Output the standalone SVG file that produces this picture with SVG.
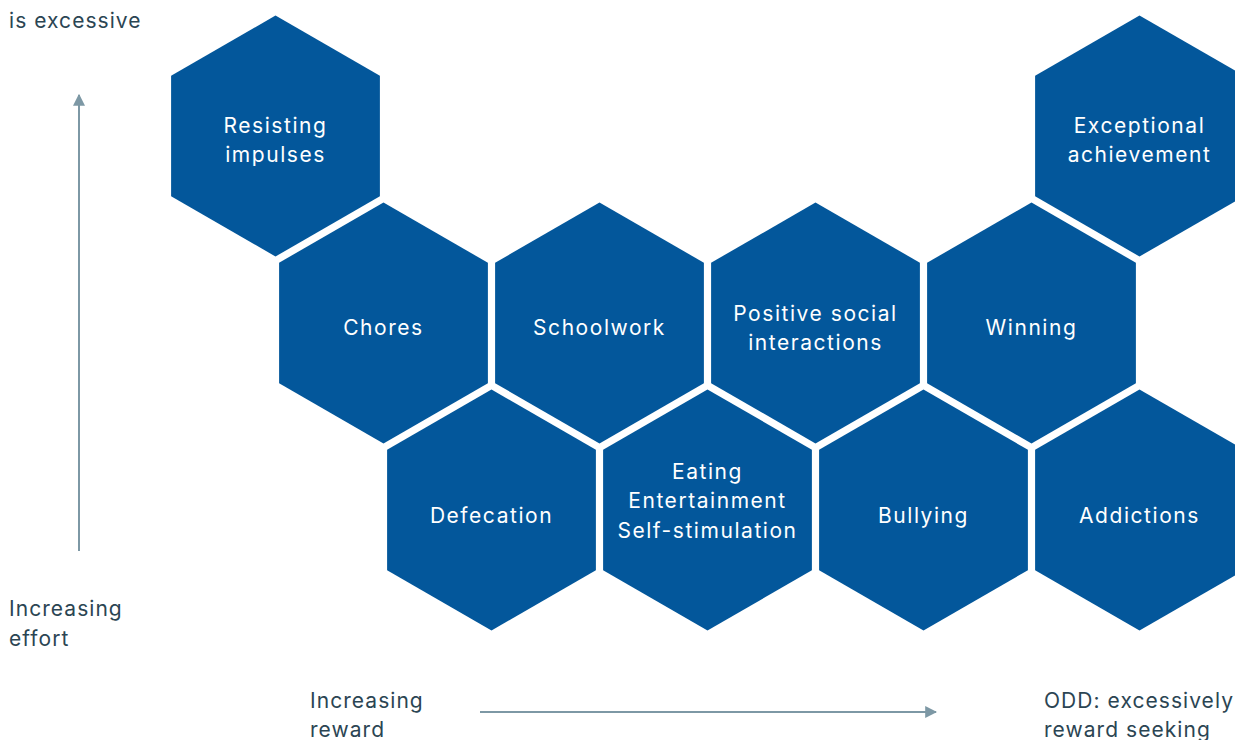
<svg xmlns="http://www.w3.org/2000/svg" width="1235" height="740" viewBox="0 0 1235 740">
<style>
.hex{fill:#03579b}
.ht{font-family:Inter,"Liberation Sans",sans-serif;font-size:21px;fill:#ffffff;text-anchor:middle;letter-spacing:1.55px}
.lab{font-family:Inter,"Liberation Sans",sans-serif;font-size:21px;fill:#2b4553;letter-spacing:1.05px}
.ax{stroke:#7d98a5;stroke-width:2;fill:none}
</style>
<defs>
<polygon id="hx" points="0,-120.5 104.4,-60.25 104.4,60.25 0,120.5 -104.4,60.25 -104.4,-60.25"/>
<marker id="ah" viewBox="0 0 10 10" refX="9" refY="5" markerWidth="6" markerHeight="6" orient="auto" markerUnits="strokeWidth">
<path d="M0,0 L10,5 L0,10 z" fill="#7d98a5"/>
</marker>
</defs>
<rect width="1235" height="740" fill="#ffffff"/>
<g id="connectors">
<line class="ax" x1="79" y1="551" x2="79" y2="95" marker-end="url(#ah)"/>
<line class="ax" x1="480" y1="712" x2="936" y2="712" marker-end="url(#ah)"/>
</g>
<g id="n-resisting"><use href="#hx" class="hex" x="275.5" y="136"/><text class="ht" x="275.5" y="133">Resisting</text><text class="ht" x="275.5" y="162">impulses</text></g>
<g id="n-exceptional"><use href="#hx" class="hex" x="1139.5" y="136"/><text class="ht" x="1139.5" y="133">Exceptional</text><text class="ht" x="1139.5" y="162">achievement</text></g>
<g id="n-chores"><use href="#hx" class="hex" x="383.5" y="323"/><text class="ht" x="383.5" y="335">Chores</text></g>
<g id="n-schoolwork"><use href="#hx" class="hex" x="599.5" y="323"/><text class="ht" x="599.5" y="335">Schoolwork</text></g>
<g id="n-positive"><use href="#hx" class="hex" x="815.5" y="323"/><text class="ht" x="815.5" y="321">Positive social</text><text class="ht" x="815.5" y="350">interactions</text></g>
<g id="n-winning"><use href="#hx" class="hex" x="1031.5" y="323"/><text class="ht" x="1031.5" y="335">Winning</text></g>
<g id="n-defecation"><use href="#hx" class="hex" x="491.5" y="510"/><text class="ht" x="491.5" y="523">Defecation</text></g>
<g id="n-eating"><use href="#hx" class="hex" x="707.5" y="510"/><text class="ht" x="707.5" y="479">Eating</text><text class="ht" x="707.5" y="508">Entertainment</text><text class="ht" x="707.5" y="538">Self-stimulation</text></g>
<g id="n-bullying"><use href="#hx" class="hex" x="923.5" y="510"/><text class="ht" x="923.5" y="523">Bullying</text></g>
<g id="n-addictions"><use href="#hx" class="hex" x="1139.5" y="510"/><text class="ht" x="1139.5" y="523">Addictions</text></g>
<g id="labels">
<text class="lab" x="9" y="28">is excessive</text>
<text class="lab" x="9" y="616">Increasing</text>
<text class="lab" x="9" y="646">effort</text>
<text class="lab" x="310" y="708">Increasing</text>
<text class="lab" x="310" y="737">reward</text>
<text class="lab" x="1044" y="708">ODD: excessively</text>
<text class="lab" x="1044" y="737">reward seeking</text>
</g>
</svg>
